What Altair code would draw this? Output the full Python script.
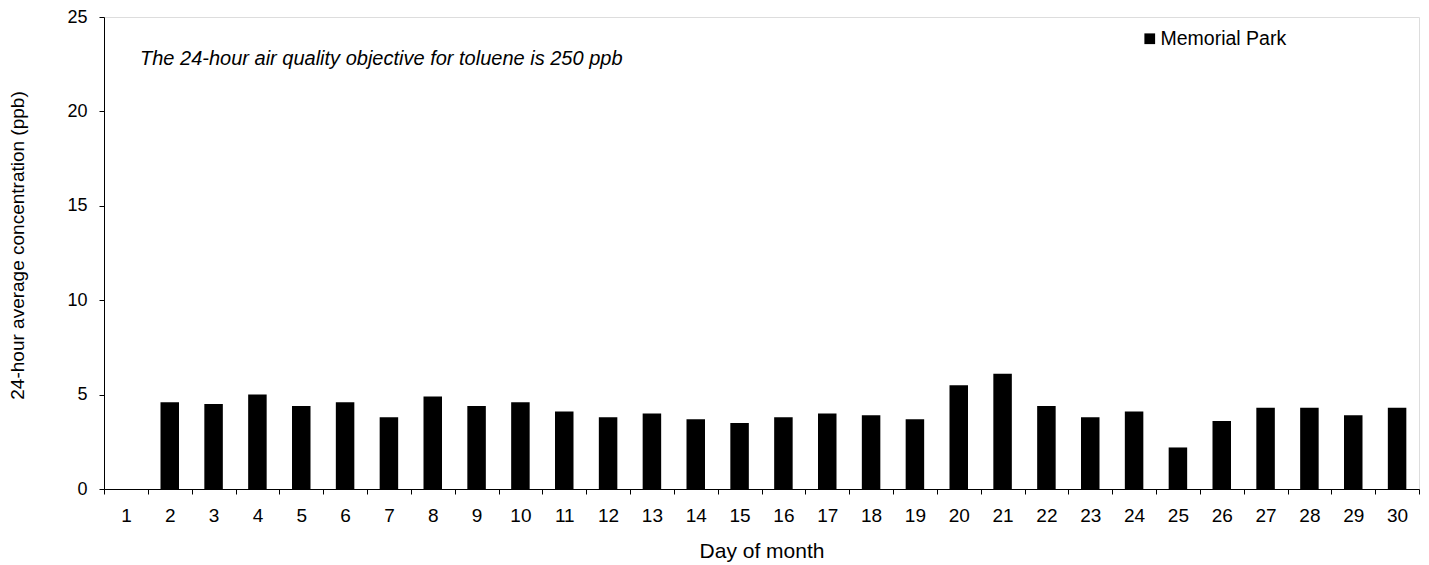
import altair as alt
import pandas as pd

days = [str(d) for d in range(1, 31)]
values = [None, 4.6, 4.5, 5.0, 4.4, 4.6, 3.8, 4.9, 4.4, 4.6,
          4.1, 3.8, 4.0, 3.7, 3.5, 3.8, 4.0, 3.9, 3.7, 5.5,
          6.1, 4.4, 3.8, 4.1, 2.2, 3.6, 4.3, 4.3, 3.9, 4.3]
series = "Memorial Park"
y_ticks = [0, 5, 10, 15, 20, 25]
note = "The 24-hour air quality objective for toluene is 250 ppb"

df = pd.DataFrame({"day": days, "value": values, "series": [series] * len(days)})

FONT = "Liberation Sans"

bars = alt.Chart(df).mark_bar(size=18.5, color="black").encode(
    x=alt.X(
        "day:O",
        sort=days,
        scale=alt.Scale(paddingInner=0, paddingOuter=0),
        axis=alt.Axis(
            title="Day of month",
            labelAngle=0,
            tickBand="extent",
            tickSize=5,
            labelPadding=12,
            labelFontSize=19,
            titleFontSize=21,
            titleFontWeight="normal",
            titleY=51,
            titleBaseline="top",
            domainColor="black",
            tickColor="black",
            labelColor="black",
            titleColor="black",
            labelFont=FONT,
            titleFont=FONT,
            grid=False,
        ),
    ),
    y=alt.Y(
        "value:Q",
        scale=alt.Scale(domain=[0, 25], nice=False),
        axis=alt.Axis(
            title="24-hour average concentration (ppb)",
            values=y_ticks,
            tickSize=5,
            labelPadding=12,
            labelFontSize=18,
            titleFontSize=19,
            titleFontWeight="normal",
            titleX=-87,
            titleY=228,
            titleBaseline="middle",
            titleAlign="center",
            domainColor="black",
            tickColor="black",
            labelColor="black",
            titleColor="black",
            labelFont=FONT,
            titleFont=FONT,
            grid=False,
        ),
    ),
    color=alt.Color(
        "series:N",
        scale=alt.Scale(domain=[series], range=["black"]),
        legend=alt.Legend(
            title=None,
            orient="none",
            legendX=1036,
            legendY=12,
            padding=0,
            symbolType="square",
            symbolSize=115,
            symbolStrokeWidth=0,
            labelOffset=1,
            labelFontSize=19.5,
            labelFont=FONT,
            labelColor="black",
        ),
    ),
)

text_df = pd.DataFrame({"label": [note]})
annot = alt.Chart(text_df).mark_text(
    align="left", baseline="alphabetic", fontStyle="italic", fontSize=20,
    font=FONT, color="black"
).encode(
    x=alt.value(36),
    y=alt.value(48),
    text="label:N",
)

chart = alt.layer(bars, annot).properties(
    width=1315,
    height=472,
    padding={"left": 96, "top": 9, "right": 2, "bottom": 76},
    autosize=alt.AutoSizeParams(type="none"),
).configure_view(
    stroke="black", strokeWidth=1
).configure(background="white")

chart.save("out.html", embed_options={"renderer": "svg", "actions": False})
